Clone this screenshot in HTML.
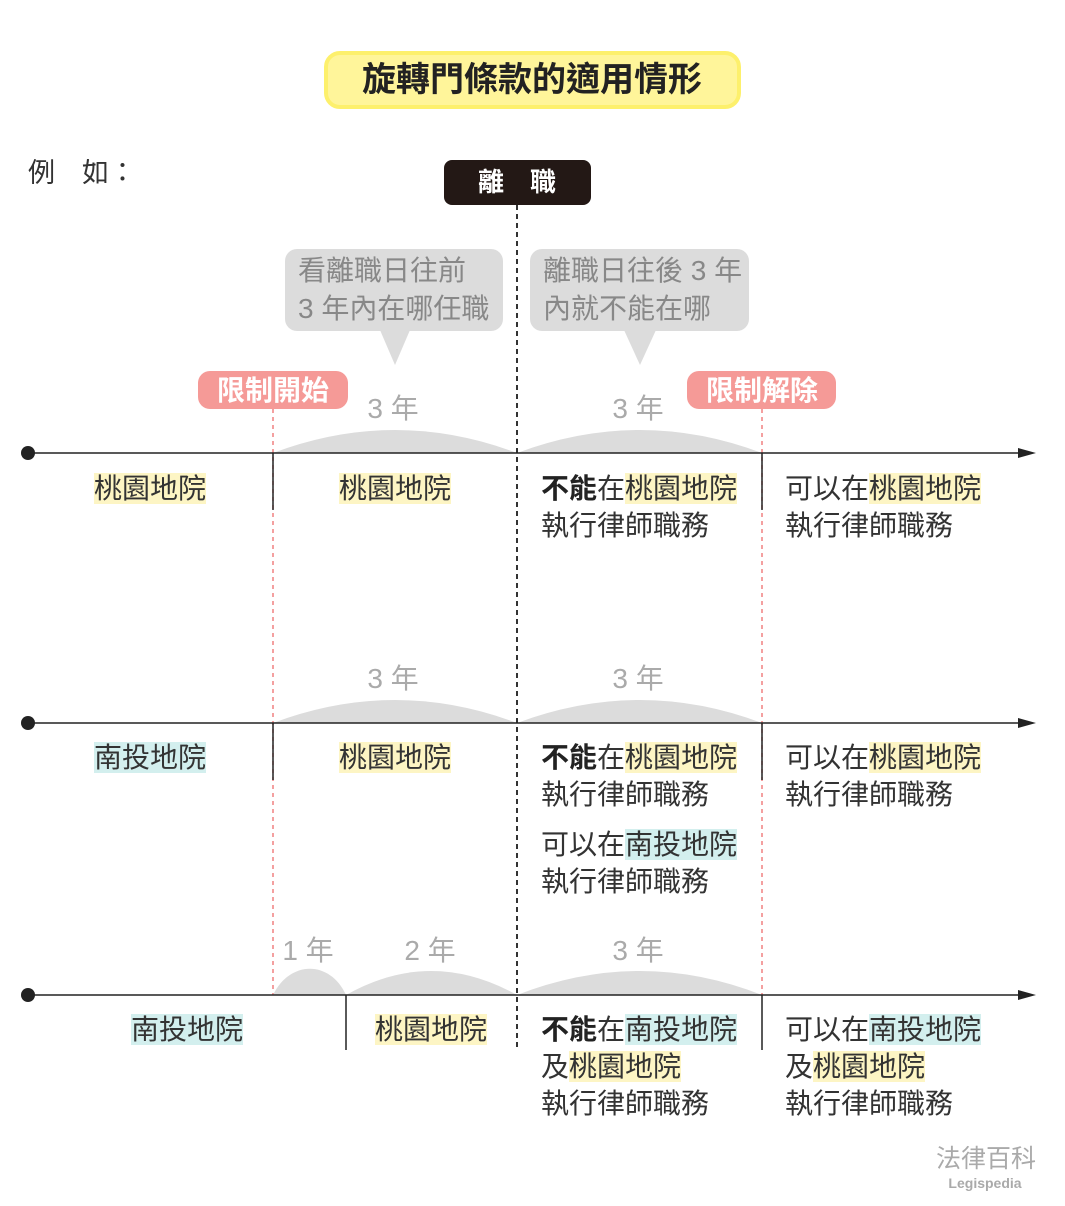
<!DOCTYPE html>
<html><head><meta charset="utf-8"><style>
body{margin:0;width:1065px;height:1206px;background:#fff;position:relative;overflow:hidden;font-family:"Liberation Sans","Noto Sans CJK TC",sans-serif;}
.t{position:absolute;font-size:28px;line-height:37px;color:#333;white-space:nowrap;}
.c{transform:translateX(-50%);}
.y{background:#fdf5c4;}
.b{background:#d3efee;}
.g{position:absolute;font-size:28px;color:#aaa;white-space:nowrap;transform:translateX(-50%);}
b{font-weight:bold;color:#222}
</style></head><body>
<svg width="1065" height="1206" style="position:absolute;left:0;top:0">
<rect x="326" y="53" width="413" height="54" rx="14" fill="#fff59a" stroke="#fdf06c" stroke-width="4"/>
<rect x="444" y="160" width="147" height="45" rx="8" fill="#231815"/>
<line x1="517" y1="205" x2="517" y2="1050" stroke="#333" stroke-width="2" stroke-dasharray="5,4"/>
<rect x="285" y="249" width="218" height="82" rx="12" fill="#dcdcdc"/>
<polygon points="380,330 410,330 395,365" fill="#dcdcdc"/>
<rect x="530" y="249" width="219" height="82" rx="12" fill="#dcdcdc"/>
<polygon points="624,330 656,330 640,365" fill="#dcdcdc"/>
<rect x="198" y="371" width="150" height="38" rx="12" fill="#f59a97"/>
<rect x="687" y="371" width="149" height="38" rx="12" fill="#f59a97"/>
<g stroke="#f08080" stroke-width="1.5" stroke-dasharray="4,4">
<line x1="273" y1="409" x2="273" y2="995"/><line x1="762" y1="409" x2="762" y2="995"/></g>
<g fill="#dcdcdc">
<path d="M273 453 Q395 407 517 453Z"/><path d="M517 453 Q640 407 762 453Z"/>
<path d="M273 723 Q395 677 517 723Z"/><path d="M517 723 Q640 677 762 723Z"/>
<path d="M273 995 C290 960 330 960 346 995Z"/><path d="M346 995 Q431 947 517 995Z"/><path d="M517 995 Q640 947 762 995Z"/>
</g>
<g stroke="#222" stroke-width="1.5">
<line x1="28" y1="453" x2="1025" y2="453"/><line x1="28" y1="723" x2="1025" y2="723"/><line x1="28" y1="995" x2="1025" y2="995"/>
<line x1="273" y1="453" x2="273" y2="510"/><line x1="762" y1="453" x2="762" y2="510"/>
<line x1="273" y1="723" x2="273" y2="780"/><line x1="762" y1="723" x2="762" y2="780"/>
<line x1="346" y1="995" x2="346" y2="1050"/><line x1="762" y1="995" x2="762" y2="1050"/>
</g>
<g fill="#222"><circle cx="28" cy="453" r="7"/><circle cx="28" cy="723" r="7"/><circle cx="28" cy="995" r="7"/>
<polygon points="1036,453 1018,448 1018,458"/><polygon points="1036,723 1018,718 1018,728"/><polygon points="1036,995 1018,990 1018,1000"/></g>
</svg>
<div class="t c" style="left:532px;top:59px;font-size:34px;font-weight:bold;color:#222;line-height:42px">旋轉門條款的適用情形</div>
<div class="t" style="left:28px;top:155px;font-size:27px">例　如：</div>
<div class="t c" style="left:517px;top:164px;font-size:26px;font-weight:bold;color:#fff">離　職</div>
<div class="t" style="left:298px;top:252px;font-size:28px;color:#888;line-height:38px">看離職日往前<br>3 年內在哪任職</div>
<div class="t" style="left:543px;top:252px;font-size:28px;color:#888;line-height:38px">離職日往後 3 年<br>內就不能在哪</div>
<div class="t c" style="left:273px;top:372px;font-size:28px;font-weight:bold;color:#fff">限制開始</div>
<div class="t c" style="left:762px;top:372px;font-size:28px;font-weight:bold;color:#fff">限制解除</div>
<div class="g" style="left:393px;top:387px">3 年</div><div class="g" style="left:638px;top:387px">3 年</div>
<div class="g" style="left:393px;top:657px">3 年</div><div class="g" style="left:638px;top:657px">3 年</div>
<div class="g" style="left:308px;top:929px">1 年</div><div class="g" style="left:430px;top:929px">2 年</div><div class="g" style="left:638px;top:929px">3 年</div>

<div class="t c" style="left:150px;top:470px"><span class="y">桃園地院</span></div>
<div class="t c" style="left:395px;top:470px"><span class="y">桃園地院</span></div>
<div class="t" style="left:541px;top:470px"><b>不能</b>在<span class="y">桃園地院</span><br>執行律師職務</div>
<div class="t" style="left:785px;top:470px">可以在<span class="y">桃園地院</span><br>執行律師職務</div>

<div class="t c" style="left:150px;top:739px"><span class="b">南投地院</span></div>
<div class="t c" style="left:395px;top:739px"><span class="y">桃園地院</span></div>
<div class="t" style="left:541px;top:739px"><b>不能</b>在<span class="y">桃園地院</span><br>執行律師職務</div>
<div class="t" style="left:541px;top:826px">可以在<span class="b">南投地院</span><br>執行律師職務</div>
<div class="t" style="left:785px;top:739px">可以在<span class="y">桃園地院</span><br>執行律師職務</div>

<div class="t c" style="left:187px;top:1011px"><span class="b">南投地院</span></div>
<div class="t c" style="left:431px;top:1011px"><span class="y">桃園地院</span></div>
<div class="t" style="left:541px;top:1011px"><b>不能</b>在<span class="b">南投地院</span><br>及<span class="y">桃園地院</span><br>執行律師職務</div>
<div class="t" style="left:785px;top:1011px">可以在<span class="b">南投地院</span><br>及<span class="y">桃園地院</span><br>執行律師職務</div>

<div class="t" style="left:936px;top:1141px;font-size:25px;color:#aaa">法律百科</div>
<div class="t c" style="left:985px;top:1173px;font-size:14px;font-weight:bold;color:#aaa;line-height:20px">Legispedia</div>
</body></html>
